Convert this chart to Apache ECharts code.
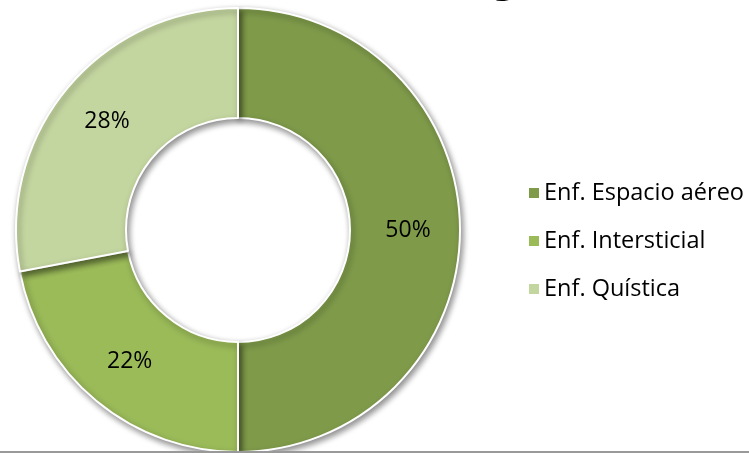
<!DOCTYPE html>
<html>
<head>
<meta charset="utf-8">
<script src="https://cdn.jsdelivr.net/npm/echarts@6/dist/echarts.min.js"></script>
<style>
  html, body { margin: 0; padding: 0; background: #fff; }
  #chart { width: 749px; height: 453px; }
</style>
</head>
<body>
<div id="chart"></div>
<script>
// Disease pattern categories and their share (%)
const categories = ['Enf. Espacio aéreo', 'Enf. Intersticial', 'Enf. Quística'];
const values = [50, 22, 28];
const colors = ['#7F9B4A', '#9BBB59', '#C4D6A0'];

const chart = echarts.init(document.getElementById('chart'), null, { renderer: 'canvas' });

chart.setOption({
  animation: false,
  color: colors,
  legend: {
    orient: 'vertical',
    left: 527,
    top: 181,
    padding: 0,
    itemWidth: 12,
    itemHeight: 12,
    itemGap: 24,
    icon: 'rect',
    selectedMode: false,
    textStyle: { fontFamily: 'Open Sans', fontSize: 23.5, color: '#000', padding: [0, 0, 0, -1] },
    data: categories
  },
  graphic: [
    {
      // descender of the heading, which sits above the drawing area
      type: 'text',
      left: 492,
      top: -39,
      style: { text: 'g', font: 'bold 40px "Open Sans"', fill: '#000' },
      z: 10
    },
    {
      type: 'rect',
      shape: { x: 0, y: 451, width: 749, height: 2 },
      style: { fill: '#999' },
      z: 10
    }
  ],
  series: [{
    type: 'pie',
    center: [238, 230],
    radius: [112, 222],
    startAngle: 90,
    clockwise: true,
    avoidLabelOverlap: false,
    itemStyle: {
      borderColor: '#fff',
      borderWidth: 2,
      shadowBlur: 6,
      shadowOffsetX: 2,
      shadowOffsetY: 3,
      shadowColor: 'rgba(0,0,0,0.45)'
    },
    label: {
      show: true,
      position: 'inside',
      formatter: '{c}%',
      fontFamily: 'Open Sans',
      fontSize: 23,
      color: '#000'
    },
    labelLine: { show: false },
    emphasis: { disabled: true },
    data: categories.map((name, i) => ({ name, value: values[i] }))
  }]
});
</script>
</body>
</html>
